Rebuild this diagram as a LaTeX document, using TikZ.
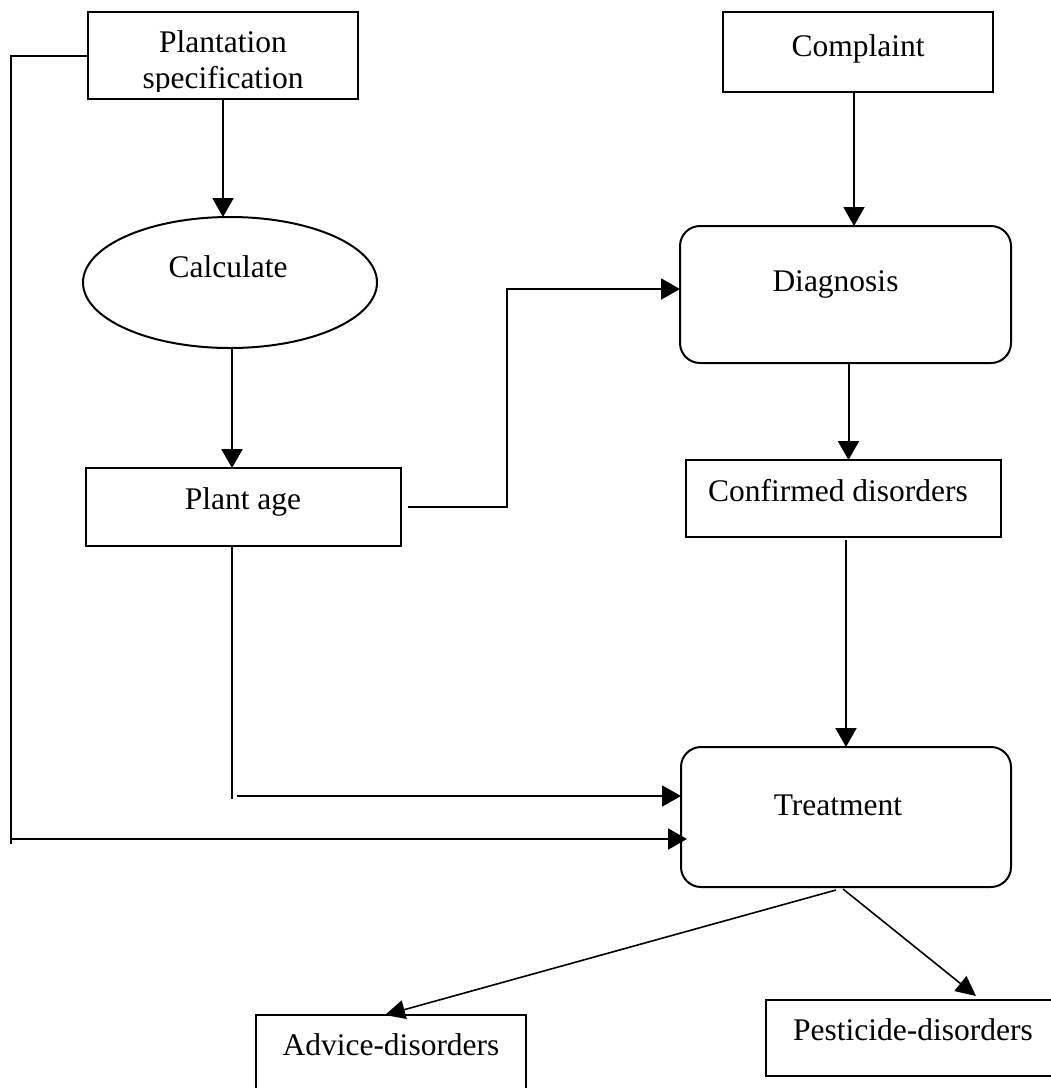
\documentclass[tikz,border=0pt]{standalone}
\usepackage{fontspec}
\setmainfont{Liberation Serif}
\usetikzlibrary{arrows.meta,shapes.geometric}
\begin{document}
\begin{tikzpicture}[x=1pt,y=-1pt,
  box/.style={draw, line width=2pt, inner sep=0pt, outer sep=0pt},
  rbox/.style={box, rounded corners=20pt},
  ebox/.style={box, ellipse},
  lbl/.style={inner sep=0pt, outer sep=0pt, font=\fontsize{31.5}{36}\selectfont},
  conn/.style={line width=2pt},
  arr/.style={conn, -{Triangle[length=19pt,width=21pt]}},
  darr/.style={line width=1.6pt, -{Triangle[length=20pt,width=19pt]}}]
\useasboundingbox (0,0) rectangle (1051,1088);
\fill[white] (0,0) rectangle (1051,1088);
\clip (0,0) rectangle (1051,1088);

% boxes
\node[box, minimum width=270pt, minimum height=87pt] (ps) at (223,55.5) {};
\node[box, minimum width=270pt, minimum height=80pt] (cp) at (858,52) {};
\node[ebox, minimum width=294pt, minimum height=131pt] (calc) at (230,282.5) {};
\node[box, minimum width=315pt, minimum height=78pt] (pa) at (243.5,507) {};
\node[rbox, minimum width=331pt, minimum height=137pt] (dg) at (845.5,294.5) {};
\node[box, minimum width=315pt, minimum height=77pt] (cf) at (843.5,498.5) {};
\node[rbox, minimum width=330pt, minimum height=140pt] (tr) at (846,817) {};
\node[box, minimum width=270pt, minimum height=95pt] (ad) at (391,1062.5) {};
\node[box, minimum width=294pt, minimum height=76pt] (pd) at (913,1038) {};

% texts
\node[lbl, anchor=base] (pst1) at (223,52) {Plantation};
\begin{scope}
  \clip (88,12) rectangle (358,91);
  \node[lbl, anchor=base] (pst2) at (223,88) {specification};
\end{scope}
\node[lbl, anchor=base] (cpt) at (858,56) {Complaint};
\node[lbl, anchor=base] (calct) at (228,277) {Calculate};
\node[lbl, anchor=base] (pat) at (243,509) {Plant age};
\node[lbl, anchor=base] (dgt) at (835.5,291) {Diagnosis};
\node[lbl, anchor=base] (cft) at (838,501) {Confirmed disorders};
\node[lbl, anchor=base] (trt) at (838,815) {Treatment};
\node[lbl, anchor=base] (adt) at (391,1055) {Advice-disorders};
\node[lbl, anchor=base] (pdt) at (913,1040) {Pesticide-disorders};

% coordinates for free bends
\coordinate (L1) at (11,55.5);
\coordinate (L2) at (11,844);
\coordinate (L3) at (11,839);
\coordinate (M1) at (507,289);
\coordinate (P1) at (232,799);
\coordinate (P2) at (237,796);

% connectors
\draw[conn] (ps.west) -- (L1) -- (L2);
\draw[arr, shorten >=-6pt] (L3) -- (L3 -| tr.west);
\draw[arr] (ps.south) -- (ps.south |- calc.north);
\draw[arr] ([xshift=2pt]calc.south) -- ([xshift=2pt]calc.south |- pa.north);
\draw[arr] ([xshift=7pt]pa.east) -| (M1) -- (M1 -| dg.west);
\draw[arr] ([xshift=-4pt]cp.south) -- ([xshift=-4pt]cp.south |- dg.north);
\draw[arr] ([xshift=3pt]dg.south) -- ([xshift=3pt]dg.south |- cf.north);
\draw[arr] ([xshift=2.5pt,yshift=-3pt]cf.south) -- ([xshift=2.5pt]cf.south |- tr.north);
\draw[conn] (pa.south -| P1) -- (P1);
\draw[arr] (P2) -- (P2 -| tr.west);
\draw[darr] ([xshift=-10pt,yshift=-3pt]tr.south) -- ([xshift=-6pt]ad.north);
\draw[darr] ([xshift=-3pt,yshift=-2pt]tr.south) -- ([xshift=63pt,yshift=4pt]pd.north);
\end{tikzpicture}
\end{document}
